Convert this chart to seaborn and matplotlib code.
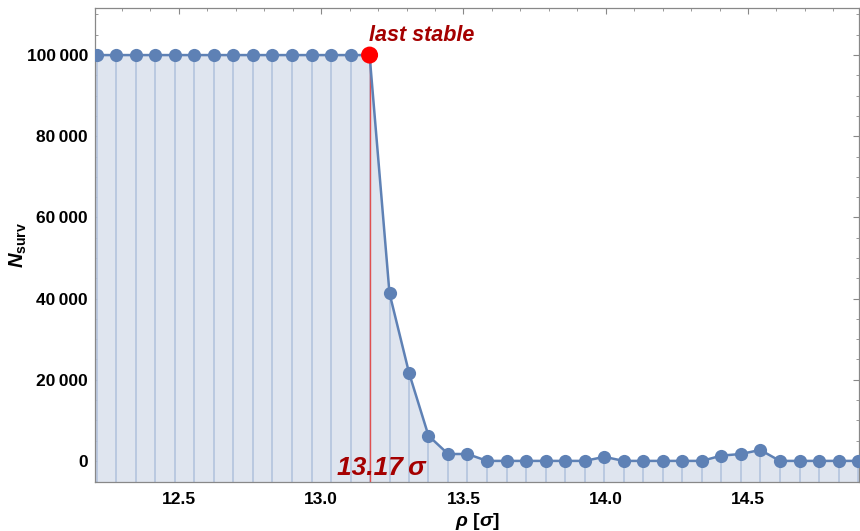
import numpy as np
import pandas as pd
import matplotlib
matplotlib.use("Agg")
import matplotlib.pyplot as plt
import seaborn as sns
from matplotlib.ticker import MultipleLocator, FuncFormatter

# ---- data ----
rho = [12.211, 12.280, 12.348, 12.417, 12.485, 12.554, 12.623, 12.691, 12.760, 12.828,
       12.897, 12.966, 13.034, 13.103, 13.170, 13.240, 13.309, 13.377, 13.446, 13.514,
       13.583, 13.652, 13.720, 13.789, 13.857, 13.926, 13.995, 14.063, 14.132, 14.200,
       14.269, 14.338, 14.406, 14.475, 14.543, 14.612, 14.681, 14.749, 14.818, 14.886]
n_surv = [100000] * 15 + [41300, 21600, 6200, 1700, 1700,
          0, 0, 0, 0, 0, 0, 1000, 0, 0, 0,
          0, 0, 1300, 1700, 2700, 0, 0, 0, 0, 0]
last_stable_rho = 13.17
last_stable_n = 100000
x_ticks = [12.5, 13.0, 13.5, 14.0, 14.5]
y_ticks = [0, 20000, 40000, 60000, 80000, 100000]

df = pd.DataFrame({"rho": rho, "n": n_surv})

sns.set_theme(style="ticks")
plt.rcParams["font.family"] = ["Liberation Sans", "DejaVu Sans"]
plt.rcParams["mathtext.fontset"] = "custom"
plt.rcParams["mathtext.it"] = "Liberation Sans:bold:italic"
plt.rcParams["mathtext.rm"] = "Liberation Sans:bold"
plt.rcParams["mathtext.bf"] = "Liberation Sans:bold"
plt.rcParams["mathtext.sf"] = "Liberation Sans:bold"

fig = plt.figure(figsize=(8.6, 5.31), dpi=100)
ax = fig.add_axes([95 / 860, 49 / 531, 764 / 860, 474 / 531])

ymin, ymax = -5200, 111600
line_col = "#5e81b5"
fill_col = "#dfe5ef"
drop_col = "#b7c6df"

ax.fill_between(df["rho"], df["n"], ymin, color=fill_col, lw=0, zorder=1)
ax.vlines(df["rho"], ymin, df["n"], color=drop_col, lw=1.3, zorder=2)
ax.vlines([last_stable_rho], ymin, last_stable_n, color="#e05050", lw=1.0, zorder=3)
sns.lineplot(data=df, x="rho", y="n", ax=ax, color=line_col, lw=1.8,
             marker="o", markersize=9.5, markeredgewidth=0, zorder=4)
sns.scatterplot(x=[last_stable_rho], y=[last_stable_n], ax=ax, color="#ff0000",
                s=150, edgecolor="none", zorder=6)

ax.text(last_stable_rho - 0.003, last_stable_n + 2300, "last stable", color="#a50000",
        fontsize=15.5, fontweight="bold", fontstyle="italic", ha="left", va="bottom")
ax.text(last_stable_rho + 0.04, -1800, "13.17\u2009\u03c3", color="#a50000",
        fontsize=19, fontweight="bold", fontstyle="italic", ha="center", va="center",
        zorder=7)

ax.set_xlim(12.205, 14.89)
ax.set_ylim(ymin, ymax)
ax.set_xticks(x_ticks)
ax.set_yticks(y_ticks)
ax.xaxis.set_minor_locator(MultipleLocator(0.1))
ax.yaxis.set_minor_locator(MultipleLocator(5000))
ax.yaxis.set_major_formatter(FuncFormatter(lambda v, p: f"{int(v):,}".replace(",", "\u2009")))
ax.xaxis.set_major_formatter(FuncFormatter(lambda v, p: f"{v:.1f}"))

for lab in ax.get_xticklabels() + ax.get_yticklabels():
    lab.set_fontweight("bold")
    lab.set_fontsize(12.5)
    lab.set_color("black")

ax.tick_params(which="both", direction="in", top=True, right=True, color="#888888")
ax.tick_params(which="major", length=4, width=0.8)
ax.tick_params(axis="x", which="major", pad=7)
ax.tick_params(axis="y", which="major", pad=5)
ax.tick_params(which="minor", length=2.5, width=0.6)
for s in ax.spines.values():
    s.set_color("#888888")
    s.set_linewidth(0.9)

ax.set_xlabel(r"$\rho$ [$\sigma$]", fontsize=14, fontweight="bold", color="black")
ax.set_ylabel(r"$N_{\mathrm{surv}}$", fontsize=14.5, color="black")
ax.xaxis.set_label_coords(0.5, -0.061)
ax.yaxis.set_label_coords(-0.087, 0.5)

fig.savefig("out.png", dpi=100)
